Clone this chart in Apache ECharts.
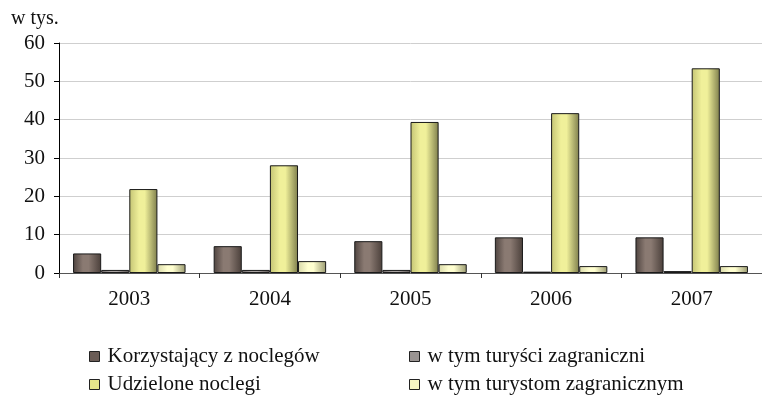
<!DOCTYPE html>
<html>
<head>
<meta charset="utf-8">
<script src="https://cdn.jsdelivr.net/npm/echarts@6/dist/echarts.min.js"></script>
<style>
  html, body { margin: 0; padding: 0; background: #fff; }
  #chart { width: 762px; height: 403px; }
</style>
</head>
<body>
<div id="chart"></div>
<script>
// dane (w tys.)
const years = ['2003', '2004', '2005', '2006', '2007'];
const seriesNames = [
    'Korzystający z noclegów',
    'w tym turyści zagraniczni',
    'Udzielone noclegi',
    'w tym turystom zagranicznym'
];
const korzystajacy = [5.1, 7.0, 8.3, 9.3, 9.3];
const turysciZagr = [0.8, 0.8, 0.8, 0.35, 0.5];
const noclegi = [21.9, 28.1, 39.4, 41.7, 53.4];
const noclegiZagr = [2.3, 3.1, 2.3, 1.8, 1.8];
const yTicks = [0, 10, 20, 30, 40, 50, 60];

const FONT = '"Liberation Serif", "Times New Roman", serif';

function grad(edge, mid, right) {
    return {
        type: 'linear', x: 0, y: 0, x2: 1, y2: 0,
        colorStops: [
            { offset: 0, color: edge },
            { offset: 0.35, color: mid },
            { offset: 0.55, color: mid },
            { offset: 1, color: right }
        ]
    };
}

const fills = [
    grad('#4e433f', '#8a7a72', '#4a3f3a'),
    grad('#6e6766', '#a8a2a0', '#5e5856'),
    grad('#c4c474', '#f0f09a', '#7e7e4c'),
    grad('#d8d8a8', '#ffffd0', '#9a9a70')
];
const legendColors = ['#6a5c56', '#9a9492', '#e6e68a', '#f6f6c4'];
const values = [korzystajacy, turysciZagr, noclegi, noclegiZagr];

const chart = echarts.init(document.getElementById('chart'));

const legendPos = [
    { left: 84, top: 341 },
    { left: 404, top: 341 },
    { left: 84, top: 369 },
    { left: 404, top: 369 }
];

chart.setOption({
    animation: false,
    textStyle: { fontFamily: FONT },
    title: {
        text: 'w tys.',
        left: 6, top: 4,
        textStyle: { fontFamily: FONT, fontSize: 20, fontWeight: 'normal', color: '#111' }
    },
    legend: legendPos.map((p, i) => ({
        data: [{ name: seriesNames[i], itemStyle: { color: legendColors[i], borderColor: '#222', borderWidth: 1 } }],
        left: p.left, top: p.top,
        itemWidth: 10, itemHeight: 10, icon: 'rect',
        itemGap: 0,
        textStyle: { fontFamily: FONT, fontSize: 21, color: '#111', padding: [0, 0, 0, 3] }
    })),
    grid: { left: 59, right: -6, top: 43, bottom: 130 },
    xAxis: {
        type: 'category',
        data: years,
        axisLine: { lineStyle: { color: '#555', width: 1 } },
        axisTick: { show: true, length: 5, lineStyle: { color: '#333' } },
        axisLabel: { fontFamily: FONT, fontSize: 21, color: '#111', margin: 16 }
    },
    yAxis: {
        type: 'value',
        min: yTicks[0], max: yTicks[yTicks.length - 1], interval: 10,
        axisLine: { show: true, lineStyle: { color: '#000', width: 1 } },
        axisTick: { show: true, length: 5, lineStyle: { color: '#000' } },
        axisLabel: { fontFamily: FONT, fontSize: 21, color: '#111', margin: 14 },
        splitLine: { lineStyle: { color: '#cfcfcf', width: 1 } }
    },
    series: values.map((v, i) => ({
        name: seriesNames[i],
        type: 'bar',
        data: v,
        barGap: '0%',
        barCategoryGap: '20%',
        itemStyle: { color: fills[i], borderColor: '#1a1a1a', borderWidth: 1 }
    }))
});
</script>
</body>
</html>
